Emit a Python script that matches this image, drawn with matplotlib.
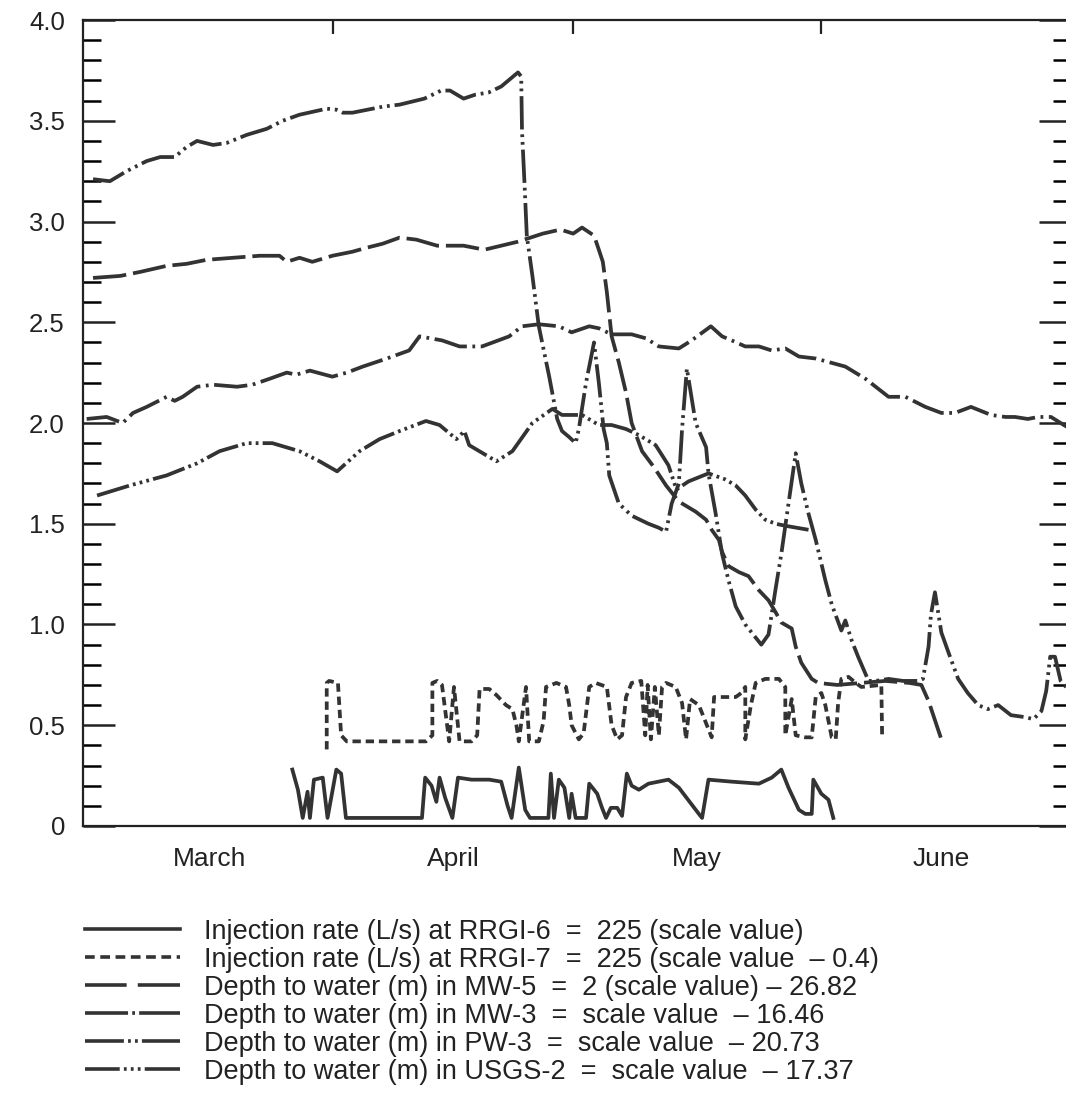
import matplotlib
matplotlib.use('Agg')
import matplotlib.pyplot as plt
from matplotlib.lines import Line2D
from matplotlib.ticker import MultipleLocator, FuncFormatter

plt.rcParams['font.family'] = ['Liberation Sans', 'DejaVu Sans']
plt.rcParams['lines.scale_dashes'] = False

# x = days since 1 March
months = ['March', 'April', 'May', 'June']
month_starts = [0, 31, 61, 92, 122]

# (day, scale value) pairs
pw3 = [(1.0, 3.21), (3.1, 3.20), (5.2, 3.25), (7.7, 3.30), (9.4, 3.32), (11.2, 3.32), (12.7, 3.37),
       (14.0, 3.40), (16.0, 3.38), (17.7, 3.39), (20.2, 3.43), (22.7, 3.46), (24.7, 3.50), (26.8, 3.53),
       (30.2, 3.56), (31.4, 3.555), (32.2, 3.54), (33.4, 3.54), (37.2, 3.57), (39.3, 3.58), (42.4, 3.61),
       (44.5, 3.65), (45.6, 3.65), (47.3, 3.61), (48.8, 3.63), (50.4, 3.64), (52.0, 3.67), (53.2, 3.71),
       (54.1, 3.74), (54.5, 3.72), (54.6, 3.45), (54.9, 3.20), (55.2, 2.93), (55.9, 2.73), (56.7, 2.48),
       (58.0, 2.23), (59.0, 2.02), (59.6, 1.96), (60.5, 1.93), (61.3, 1.90), (61.7, 1.97), (62.6, 2.20),
       (63.6, 2.40), (64.2, 2.20), (64.8, 1.97), (65.2, 1.90), (65.5, 1.74), (66.7, 1.60), (68.3, 1.54),
       (70.4, 1.50), (71.7, 1.48), (72.6, 1.46), (73.3, 1.60), (74.2, 1.70), (74.6, 1.97), (75.2, 2.27),
       (76.3, 2.00), (77.6, 1.88), (77.9, 1.75), (78.8, 1.55), (79.6, 1.35), (80.4, 1.22), (81.3, 1.09),
       (82.5, 1.00), (84.5, 0.90), (85.4, 0.95), (86.3, 1.18), (87.0, 1.35), (87.9, 1.60), (88.8, 1.85),
       (89.5, 1.70), (90.4, 1.55), (91.3, 1.42), (92.5, 1.22), (93.3, 1.10), (94.5, 0.97), (95.0, 1.02),
       (95.8, 0.92), (96.6, 0.84), (97.9, 0.72), (98.8, 0.72), (100.4, 0.73), (102.2, 0.72), (104.1, 0.72),
       (104.7, 0.73), (105.4, 0.89), (105.7, 1.05), (106.2, 1.16), (107.0, 0.96), (107.9, 0.86),
       (109.1, 0.73), (110.3, 0.66), (111.6, 0.60), (112.8, 0.58), (114.1, 0.60), (115.7, 0.55),
       (117.5, 0.54), (118.5, 0.53), (119.5, 0.57), (120.1, 0.67), (120.6, 0.84), (121.2, 0.84),
       (121.9, 0.72), (122.8, 0.68)]

mw5 = [(1.0, 2.72), (4.4, 2.73), (6.9, 2.75), (10.2, 2.78), (12.7, 2.79), (15.2, 2.81), (18.5, 2.82),
       (21.8, 2.83), (24.3, 2.83), (25.2, 2.80), (26.8, 2.82), (28.4, 2.80), (30.9, 2.83), (33.4, 2.85),
       (35.2, 2.87), (37.2, 2.89), (39.3, 2.92), (41.4, 2.91), (44.0, 2.88), (47.3, 2.88), (49.9, 2.86),
       (52.0, 2.88), (54.1, 2.90), (57.2, 2.94), (59.4, 2.96), (61.0, 2.94), (62.1, 2.97), (63.6, 2.93),
       (64.2, 2.86), (64.7, 2.80), (65.2, 2.65), (65.8, 2.43), (66.7, 2.30), (67.6, 2.15), (68.3, 2.00),
       (69.6, 1.86), (71.1, 1.78), (72.6, 1.69), (74.2, 1.61), (76.3, 1.56), (77.6, 1.52), (78.3, 1.47),
       (79.2, 1.42), (79.6, 1.36), (80.4, 1.29), (81.7, 1.26), (82.9, 1.24), (84.2, 1.17), (85.4, 1.12),
       (86.3, 1.06), (87.0, 1.01), (88.3, 0.98), (88.8, 0.89), (89.5, 0.81), (90.8, 0.73), (91.6, 0.71),
       (94.0, 0.70), (97.0, 0.71), (100.0, 0.72), (103.0, 0.71), (104.5, 0.70), (105.4, 0.62), (107.0, 0.43)]

mw3 = [(0.2, 2.02), (2.7, 2.03), (4.7, 2.00), (6.0, 2.05), (7.7, 2.08), (10.2, 2.13), (11.2, 2.11),
       (12.2, 2.13), (14.0, 2.18), (16.0, 2.19), (19.0, 2.18), (20.9, 2.19), (23.1, 2.22), (25.2, 2.25),
       (26.4, 2.24), (28.1, 2.26), (30.9, 2.23), (32.7, 2.25), (34.7, 2.28), (37.7, 2.32), (40.5, 2.36),
       (41.8, 2.43), (44.6, 2.41), (46.8, 2.38), (49.6, 2.38), (53.0, 2.43), (54.6, 2.48), (56.7, 2.49),
       (59.2, 2.48), (60.8, 2.45), (63.0, 2.48), (64.2, 2.47), (65.8, 2.44), (68.3, 2.44), (70.1, 2.42),
       (71.7, 2.38), (74.2, 2.37), (75.8, 2.41), (78.2, 2.48), (79.6, 2.43), (80.8, 2.41), (82.5, 2.38),
       (84.2, 2.38), (85.8, 2.36), (87.5, 2.37), (89.2, 2.33), (91.3, 2.32), (95.0, 2.28), (97.5, 2.22),
       (100.4, 2.13), (102.5, 2.13), (105.0, 2.08), (107.0, 2.05), (108.7, 2.05), (110.7, 2.08),
       (113.2, 2.04), (115.0, 2.03), (116.2, 2.03), (117.8, 2.02), (119.1, 2.03), (120.7, 2.03),
       (122.3, 1.99), (123.2, 1.97)]

usgs2 = [(1.5, 1.64), (5.6, 1.69), (10.2, 1.74), (14.0, 1.80), (16.8, 1.86), (20.2, 1.90), (23.4, 1.90),
         (26.8, 1.86), (29.3, 1.81), (31.5, 1.76), (34.3, 1.86), (36.8, 1.92), (39.3, 1.96), (42.6, 2.01),
         (44.3, 1.99), (46.4, 1.92), (47.4, 1.96), (48.0, 1.89), (51.4, 1.81), (53.4, 1.86), (55.9, 2.00),
         (58.4, 2.07), (59.6, 2.04), (62.1, 2.04), (64.2, 1.99), (65.8, 1.99), (67.6, 1.97), (69.2, 1.94),
         (71.3, 1.89), (72.9, 1.79), (73.9, 1.67), (75.4, 1.71), (77.9, 1.75), (80.0, 1.72), (81.3, 1.69),
         (82.5, 1.64), (83.8, 1.57), (85.0, 1.52), (86.3, 1.50), (87.5, 1.49), (90.4, 1.47)]

rrgi6 = [(25.9, 0.28), (26.6, 0.18), (27.2, 0.04), (27.8, 0.17), (28.1, 0.04), (28.6, 0.23), (29.7, 0.24),
         (30.3, 0.04), (31.4, 0.28), (32.0, 0.26), (32.6, 0.04), (42.1, 0.04), (42.5, 0.24), (43.3, 0.20),
         (43.9, 0.12), (44.3, 0.24), (45.0, 0.14), (45.9, 0.04), (46.6, 0.24), (48.3, 0.23), (50.5, 0.23),
         (52.0, 0.22), (52.8, 0.10), (53.3, 0.04), (54.2, 0.29), (55.0, 0.08), (55.6, 0.04), (57.9, 0.04),
         (58.2, 0.26), (58.6, 0.04), (59.2, 0.23), (59.9, 0.19), (60.5, 0.04), (60.8, 0.16), (61.3, 0.04),
         (62.6, 0.04), (63.0, 0.21), (64.0, 0.16), (64.6, 0.09), (65.1, 0.04), (65.7, 0.09), (66.5, 0.09),
         (67.1, 0.05), (67.7, 0.26), (68.3, 0.20), (69.2, 0.18), (70.4, 0.21), (72.9, 0.23), (74.2, 0.19),
         (76.7, 0.06), (77.1, 0.04), (77.9, 0.23), (80.8, 0.22), (84.2, 0.21), (85.8, 0.24), (87.0, 0.28),
         (87.9, 0.19), (89.2, 0.08), (90.0, 0.06), (90.8, 0.06), (91.0, 0.23), (92.0, 0.16), (92.9, 0.13),
         (93.5, 0.04)]

rrgi7 = [(30.2, 0.38), (30.2, 0.71), (30.5, 0.72), (31.6, 0.71), (32.0, 0.45), (32.7, 0.42), (42.6, 0.42),
         (43.4, 0.45), (43.4, 0.71), (44.0, 0.72), (44.6, 0.70), (45.5, 0.42), (46.1, 0.69), (46.8, 0.42),
         (48.3, 0.42), (49.0, 0.45), (49.3, 0.68), (50.5, 0.68), (51.4, 0.65), (52.6, 0.60), (53.4, 0.58),
         (53.9, 0.50), (54.2, 0.42), (55.1, 0.69), (55.5, 0.42), (56.7, 0.42), (57.3, 0.52), (57.6, 0.69),
         (58.9, 0.71), (60.1, 0.69), (60.5, 0.60), (60.8, 0.50), (61.7, 0.43), (62.3, 0.46), (63.0, 0.69),
         (63.8, 0.71), (65.2, 0.69), (65.8, 0.50), (66.5, 0.43), (67.1, 0.45), (67.6, 0.64), (68.3, 0.71),
         (69.5, 0.72), (70.0, 0.45), (70.3, 0.70), (70.7, 0.43), (71.2, 0.69), (71.7, 0.45), (72.1, 0.69),
         (72.6, 0.71), (73.8, 0.69), (74.6, 0.61), (75.1, 0.43), (75.6, 0.63), (76.7, 0.60), (78.3, 0.44),
         (78.6, 0.64), (79.2, 0.64), (81.3, 0.64), (82.0, 0.66), (82.5, 0.69), (82.5, 0.43), (83.2, 0.60),
         (83.8, 0.71), (85.0, 0.73), (86.7, 0.73), (87.5, 0.69), (87.5, 0.45), (88.3, 0.63), (88.8, 0.45),
         (90.0, 0.44), (90.8, 0.44), (91.3, 0.64), (92.0, 0.66), (92.5, 0.60), (93.3, 0.44), (93.8, 0.43),
         (94.1, 0.61), (94.5, 0.73), (95.4, 0.74), (96.3, 0.71), (97.0, 0.69), (99.5, 0.70), (99.6, 0.44)]

labels = [
    'Injection rate (L/s) at RRGI-6  =  225 (scale value)',
    'Injection rate (L/s) at RRGI-7  =  225 (scale value  \u2013 0.4)',
    'Depth to water (m) in MW-5  =  2 (scale value) \u2013 26.82',
    'Depth to water (m) in MW-3  =  scale value  \u2013 16.46',
    'Depth to water (m) in PW-3  =  scale value  \u2013 20.73',
    'Depth to water (m) in USGS-2  =  scale value  \u2013 17.37',
]

series = [rrgi6, rrgi7, mw5, mw3, pw3, usgs2]
dashes = [
    '-',
    (0, (6, 3.5)),
    (0, (24, 5)),
    (0, (24, 4, 2, 4)),
    (0, (24, 3.5, 2, 3.5, 2, 3.5)),
    (0, (24, 3, 2, 3, 2, 3, 2, 3)),
]
# legend sample patterns (68 pt long samples)
legend_dashes = [
    '-',
    (0, (7, 4)),
    (0, (30, 8, 40, 0)),
    (0, (31, 3, 2, 3, 40, 0)),
    (0, (28, 3, 2, 3, 2, 3, 40, 0)),
    (0, (25, 3, 2, 3, 2, 3, 2, 3, 40, 0)),
]

ink = '#333333'
W, H = 1066, 1100
fig = plt.figure(figsize=(W / 100, H / 100), dpi=100)
ax = fig.add_axes([0.0779, 0.2491, 0.9268, 0.7327])

for pts, ls in zip(series, dashes):
    xs = [p[0] for p in pts]
    ys = [p[1] for p in pts]
    ax.plot(xs, ys, color=ink, lw=2.7, linestyle=ls, solid_joinstyle='round', dash_capstyle='butt')

ax.set_xlim(-0.25, 123.2)
ax.set_ylim(0, 4.0)

for s in ax.spines.values():
    s.set_linewidth(1.6)
    s.set_color('#222222')

ax.yaxis.set_major_locator(MultipleLocator(0.5))
ax.yaxis.set_minor_locator(MultipleLocator(0.1))
ax.yaxis.set_major_formatter(FuncFormatter(lambda v, p: '0' if abs(v) < 1e-9 else f'{v:.1f}'))
ax.tick_params(axis='y', which='major', direction='in', length=23, width=1.8, left=True, right=True,
               labelsize=18.5, pad=13, colors='#222222')
ax.tick_params(axis='y', which='minor', direction='in', length=13, width=1.8, left=True, right=True)

ax.set_xticks(month_starts[1:4])
ax.set_xticks([(a + b) / 2 for a, b in zip(month_starts[:-1], month_starts[1:])], minor=True)
ax.set_xticklabels(months, minor=True)
ax.tick_params(axis='x', which='major', direction='in', length=10, width=1.6, top=True, bottom=False,
               labelbottom=False, labeltop=False, colors='#222222')
ax.tick_params(axis='x', which='minor', length=0, top=False, bottom=True, labelsize=19, pad=15,
               colors='#222222')

# legend below the axes, drawn row by row
row0, pitch = 929, 28
for i, (lab, ls) in enumerate(zip(labels, legend_dashes)):
    yf = 1 - (row0 + pitch * i) / H
    fig.add_artist(Line2D([85 / W, 180 / W], [yf, yf], transform=fig.transFigure, color=ink,
                          lw=2.6, linestyle=ls, dash_capstyle='butt'))
    fig.text(204 / W, yf, lab, fontsize=19.5, color='#222222', ha='left', va='center_baseline')

fig.savefig('out.png', dpi=100)
